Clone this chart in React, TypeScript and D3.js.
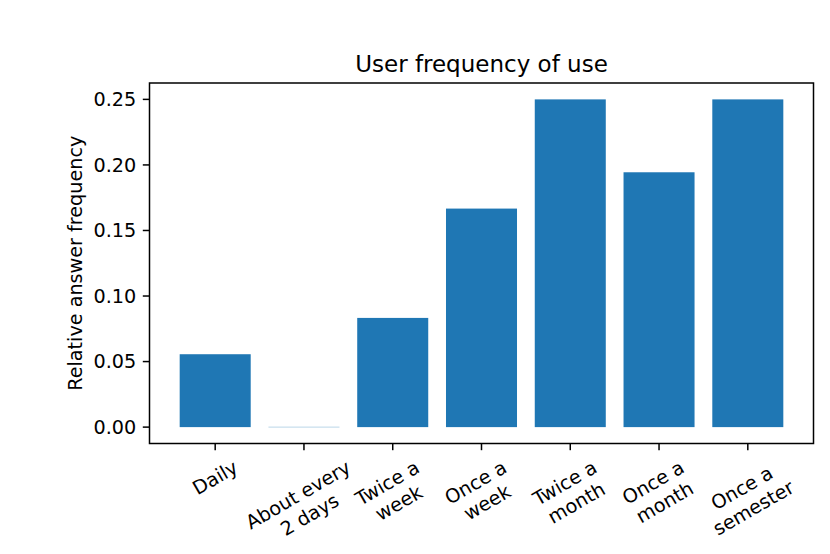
import React, { useEffect, useRef } from "react";
import * as d3 from "d3";

const categories: string[] = [
  "Daily",
  "About every\n2 days",
  "Twice a\nweek",
  "Once a\nweek",
  "Twice a\nmonth",
  "Once a\nmonth",
  "Once a\nsemester",
];
const values: number[] = [0.0556, 0, 0.0833, 0.1667, 0.25, 0.1944, 0.25];
const yTicks: number[] = [0, 0.05, 0.1, 0.15, 0.2, 0.25];
const title = "User frequency of use";
const yLabel = "Relative answer frequency";

const W = 830;
const H = 554;
const FONT = "DejaVu Sans, sans-serif";
const FS = 19.2;

export default function App() {
  const ref = useRef<SVGSVGElement | null>(null);

  useEffect(() => {
    const svg = d3.select(ref.current);
    svg.selectAll("*").remove();

    const left = 149.5;
    const right = 813.5;
    const top = 83;
    const bottom = 443.5;
    const n = categories.length;
    const bw = 0.8;
    const xMin = -bw / 2 - 0.05 * (n - 1 + bw);
    const xMax = n - 1 + bw / 2 + 0.05 * (n - 1 + bw);
    const x = d3.scaleLinear().domain([xMin, xMax]).range([left, right]);
    const yMaxV = d3.max(values) as number;
    const y = d3.scaleLinear().domain([-0.05 * yMaxV, yMaxV * 1.05]).range([bottom, top]);

    svg.append("rect").attr("width", W).attr("height", H).attr("fill", "white");

    // bars
    values.forEach((v, i) => {
      if (v > 0) {
        svg
          .append("rect")
          .attr("x", x(i - bw / 2))
          .attr("width", x(i + bw / 2) - x(i - bw / 2))
          .attr("y", y(v))
          .attr("height", y(0) - y(v))
          .attr("fill", "#1f77b4");
      } else {
        svg
          .append("line")
          .attr("x1", x(i - bw / 2))
          .attr("x2", x(i + bw / 2))
          .attr("y1", y(0))
          .attr("y2", y(0))
          .attr("stroke", "#1f77b4")
          .attr("stroke-opacity", 0.3)
          .attr("stroke-width", 1);
      }
    });

    // frame
    svg
      .append("rect")
      .attr("x", left)
      .attr("y", top)
      .attr("width", right - left)
      .attr("height", bottom - top)
      .attr("fill", "none")
      .attr("stroke", "black")
      .attr("stroke-width", 1.5);

    const tickLen = 6.7;
    // y ticks
    yTicks.forEach((t) => {
      const yy = y(t);
      svg
        .append("line")
        .attr("x1", left - tickLen)
        .attr("x2", left)
        .attr("y1", yy)
        .attr("y2", yy)
        .attr("stroke", "black")
        .attr("stroke-width", 1.5);
      svg
        .append("text")
        .attr("x", left - tickLen - 6.5)
        .attr("y", yy)
        .attr("dy", "0.36em")
        .attr("text-anchor", "end")
        .attr("font-family", FONT)
        .attr("font-size", FS)
        .text(d3.format(".2f")(t));
    });

    // x ticks + rotated labels
    categories.forEach((c, i) => {
      const xx = x(i);
      svg
        .append("line")
        .attr("x1", xx)
        .attr("x2", xx)
        .attr("y1", bottom)
        .attr("y2", bottom + tickLen)
        .attr("stroke", "black")
        .attr("stroke-width", 1.5);
      const outer = svg.append("g");
      const inner = outer.append("g").attr("transform", "rotate(-30)");
      const txt = inner
        .append("text")
        .attr("text-anchor", "middle")
        .attr("font-family", FONT)
        .attr("font-size", FS);
      c.split("\n").forEach((line, k) => {
        txt
          .append("tspan")
          .attr("x", 0)
          .attr("y", k * FS * 1.2)
          .text(line);
      });
      const bb = (outer.node() as SVGGElement).getBBox();
      const topY = bottom + tickLen + 5.5;
      outer.attr(
        "transform",
        `translate(${xx - (bb.x + bb.width / 2)},${topY - bb.y})`
      );
    });

    // title
    svg
      .append("text")
      .attr("x", (left + right) / 2)
      .attr("y", 72)
      .attr("text-anchor", "middle")
      .attr("font-family", FONT)
      .attr("font-size", 23)
      .text(title);

    // y label
    svg
      .append("text")
      .attr("transform", `translate(${82},${(top + bottom) / 2}) rotate(-90)`)
      .attr("text-anchor", "middle")
      .attr("font-family", FONT)
      .attr("font-size", FS)
      .text(yLabel);
  }, []);

  return (
    <svg
      ref={ref}
      width={W}
      height={H}
      style={{ display: "block", position: "absolute", left: 0, top: 0 }}
    />
  );
}
